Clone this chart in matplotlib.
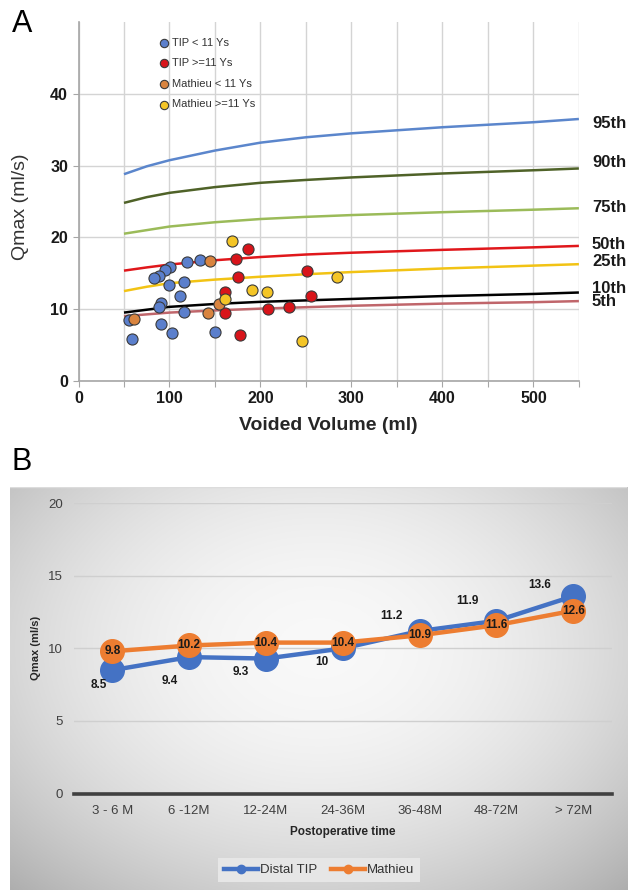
import numpy as np
import matplotlib
matplotlib.use("Agg")
import matplotlib.pyplot as plt
from matplotlib.lines import Line2D
import matplotlib.transforms as mtransforms

plt.rcParams['font.family'] = ['Liberation Sans', 'DejaVu Sans']

# ---------------- Panel A data ----------------
tip_lt11_x = [119, 134, 101, 95, 89, 83, 99, 116, 112, 91, 88, 116, 56, 91, 103, 59, 150]
tip_lt11_y = [16.6, 16.8, 15.8, 15.4, 14.6, 14.35, 13.3, 13.8, 11.8, 10.9, 10.25, 9.55, 8.5, 7.95, 6.65, 5.8, 6.75]
tip_ge11_x = [186, 173, 175, 161, 161, 177, 208, 251, 231, 256]
tip_ge11_y = [18.4, 16.95, 14.4, 12.4, 9.5, 6.35, 10.0, 15.3, 10.3, 11.85]
mat_lt11_x = [144, 61, 154, 142]
mat_lt11_y = [16.7, 8.6, 10.7, 9.4]
mat_ge11_x = [169, 161, 191, 207, 284, 246]
mat_ge11_y = [19.5, 11.4, 12.6, 12.35, 14.5, 5.55]

pct_x = [50, 75, 100, 150, 200, 250, 300, 400, 500, 550]
p95 = [28.8, 29.9, 30.75, 32.1, 33.2, 33.95, 34.5, 35.35, 36.05, 36.5]
p90 = [24.8, 25.6, 26.2, 27.0, 27.6, 28.0, 28.35, 28.9, 29.35, 29.6]
p75 = [20.5, 21.0, 21.5, 22.1, 22.55, 22.85, 23.1, 23.5, 23.85, 24.05]
p50 = [15.35, 15.8, 16.2, 16.8, 17.25, 17.6, 17.85, 18.25, 18.6, 18.8]
p25 = [12.5, 13.1, 13.6, 14.1, 14.5, 14.85, 15.15, 15.65, 16.05, 16.25]
p10 = [9.5, 9.9, 10.3, 10.7, 11.0, 11.2, 11.4, 11.8, 12.1, 12.3]
p05 = [9.0, 9.25, 9.5, 9.8, 10.05, 10.25, 10.45, 10.75, 10.95, 11.1]
pct_names = ['95th', '90th', '75th', '50th', '25th', '10th', '5th']
pct_label_y = [35.9, 30.4, 24.2, 19.0, 16.6, 12.9, 11.0]

# ---------------- Panel B data ----------------
periods = ['3 - 6 M', '6 -12M', '12-24M', '24-36M', '36-48M', '48-72M', '> 72M']
distal_tip = [8.5, 9.4, 9.3, 10, 11.2, 11.9, 13.6]
mathieu = [9.8, 10.2, 10.4, 10.4, 10.9, 11.6, 12.6]

W, H = 631, 890
fig = plt.figure(figsize=(W / 100, H / 100), dpi=100)

# ---------------- Panel A ----------------
axA = fig.add_axes([78.5 / W, 1 - 380.7 / H, (578.9 - 78.5) / W, (380.7 - 22.2) / H])
axA.set_xlim(0, 550)
axA.set_ylim(0, 50)
axA.set_xticks(np.arange(0, 551, 50))
axA.set_xticklabels([str(v) if v % 100 == 0 else '' for v in range(0, 551, 50)])
axA.set_yticks([0, 10, 20, 30, 40])
axA.grid(True, color='#d4d4d4', lw=1.0)
axA.set_axisbelow(True)
for s in ['top', 'right']:
    axA.spines[s].set_visible(False)
for s in ['left', 'bottom']:
    axA.spines[s].set_color('#a6a6a6')
    axA.spines[s].set_linewidth(1.2)
axA.tick_params(axis='both', colors='#a6a6a6', labelcolor='#1a1a1a', length=4, labelsize=11.5)
for lab in axA.get_xticklabels() + axA.get_yticklabels():
    lab.set_fontweight('bold')

pct_series = [p95, p90, p75, p50, p25, p10, p05]
pct_colors = ['#5b86cc', '#4f6228', '#9bbb59', '#e0171b', '#f2c314', '#000000', '#c0666b']
for vals, c in zip(pct_series, pct_colors):
    axA.plot(pct_x, vals, color=c, lw=1.8, solid_capstyle='butt')

trans = mtransforms.blended_transform_factory(axA.transAxes, axA.transData)
for name, yv in zip(pct_names, pct_label_y):
    axA.text(1.026, yv, name, transform=trans, fontsize=12, fontweight='bold',
             va='center', ha='left', color='#1a1a1a')

sc_kw = dict(s=64, edgecolors='#3a3a3a', linewidths=0.8, zorder=5)
axA.scatter(tip_lt11_x, tip_lt11_y, c='#5b7fcc', label='TIP < 11 Ys', **sc_kw)
axA.scatter(tip_ge11_x, tip_ge11_y, c='#d8141a', label='TIP >=11 Ys', **sc_kw)
axA.scatter(mat_lt11_x, mat_lt11_y, c='#d9843f', label='Mathieu < 11 Ys', **sc_kw)
axA.scatter(mat_ge11_x, mat_ge11_y, c='#f4c526', label='Mathieu >=11 Ys', **sc_kw)

legA = axA.legend(loc='upper left', bbox_to_anchor=((150 - 78.5) / 500.4, 1 - (30 - 22.2) / 358.5),
                  frameon=False, fontsize=8, markerscale=0.75, handletextpad=0.1,
                  labelspacing=0.95, borderpad=0.2, handlelength=1.2)
for t in legA.get_texts():
    t.set_color('#333333')

axA.set_xlabel('Voided Volume (ml)', fontsize=14, fontweight='bold', color='#262626', labelpad=8)
axA.set_ylabel('Qmax (ml/s)', fontsize=14, color='#333333')
axA.yaxis.set_label_coords(-0.099, 0.485)

fig.text(12 / W, 1 - 24 / H, 'A', fontsize=22, va='center', ha='left')
fig.text(12 / W, 1 - 462 / H, 'B', fontsize=22, va='center', ha='left')

# ---------------- Panel B background ----------------
bg_l, bg_r, bg_t = 9.5 / W, 627 / W, 1 - 487.5 / H
axBg = fig.add_axes([bg_l, 0, bg_r - bg_l, bg_t])
axBg.set_axis_off()
gx = np.linspace(-1, 1, 300)
gy = np.linspace(-1, 1, 300)
GX, GY = np.meshgrid(gx, gy)
R = np.sqrt((GX * 0.95) ** 2 + ((GY + 0.2) * 0.85) ** 2)
shade = 0.975 - 0.15 * np.clip(R, 0, 1.4) ** 2
img = np.dstack([shade, shade, shade])
axBg.imshow(img, extent=[0, 1, 0, 1], aspect='auto', origin='upper')
axBg.set_xlim(0, 1)
axBg.set_ylim(0, 1)
axBg.plot([0, 1], [1, 1], color='#dcdcdc', lw=1)

# ---------------- Panel B ----------------
axB = fig.add_axes([74 / W, 1 - 793.5 / H, (611.7 - 74) / W, (793.5 - 503.3) / H])
axB.patch.set_alpha(0)
xs = np.arange(len(periods))
axB.set_xlim(-0.5, len(periods) - 0.5)
axB.set_ylim(0, 20)
axB.set_yticks([0, 5, 10, 15, 20])
axB.yaxis.grid(True, color='#cfcfcf', lw=1.0)
axB.set_axisbelow(True)
for s in ['top', 'right', 'left']:
    axB.spines[s].set_visible(False)
axB.spines['bottom'].set_color('#404040')
axB.spines['bottom'].set_linewidth(2.6)
axB.tick_params(axis='both', length=0, labelsize=9.5, labelcolor='#404040')
axB.tick_params(axis='y', pad=8)
axB.tick_params(axis='x', pad=8)
axB.set_xticks(xs)
axB.set_xticklabels(periods)

axB.plot(xs, distal_tip, color='#4472c4', lw=3.2, marker='o', ms=17,
         markeredgecolor='#4472c4', label='Distal TIP', zorder=3, clip_on=False)
axB.plot(xs, mathieu, color='#ed7d31', lw=3.2, marker='o', ms=17,
         markeredgecolor='#ed7d31', label='Mathieu', zorder=4, clip_on=False)

tip_label_offsets = [(-10, -11), (-14, -17), (-18, -10), (-15, -10), (-20, 11), (-21, 14), (-24, 8)]
for x, v, off in zip(xs, distal_tip, tip_label_offsets):
    axB.annotate(f'{v:g}', (x, v), xytext=off, textcoords='offset points',
                 ha='center', va='center', fontsize=8.5, fontweight='bold', color='#1a1a1a')
for x, v in zip(xs, mathieu):
    axB.annotate(f'{v:g}', (x, v), xytext=(0, 0), textcoords='offset points',
                 ha='center', va='center', fontsize=8.5, fontweight='bold', color='#1a1a1a', zorder=6)

axB.set_xlabel('Postoperative time', fontsize=8.5, fontweight='bold', color='#262626', labelpad=7)
axB.set_ylabel('Qmax (ml/s)', fontsize=8, fontweight='bold', color='#262626')
axB.yaxis.set_label_coords((41 - 74) / (611.7 - 74), 0.5)

h1 = Line2D([], [], color='#4472c4', lw=3.2, marker='o', ms=6)
h2 = Line2D([], [], color='#ed7d31', lw=3.2, marker='o', ms=6)
legB = fig.legend([h1, h2], ['Distal TIP', 'Mathieu'], loc='center',
                  bbox_to_anchor=(319 / W, 1 - 870 / H), ncol=2, fontsize=9.5,
                  frameon=True, fancybox=False, handlelength=2.6, handletextpad=0.15,
                  columnspacing=1.0, borderpad=0.45)
legB.get_frame().set_facecolor('#e6e6e6')
legB.get_frame().set_edgecolor('none')
legB.get_frame().set_alpha(1)
for t in legB.get_texts():
    t.set_color('#333333')

fig.savefig('out.png', dpi=100)
